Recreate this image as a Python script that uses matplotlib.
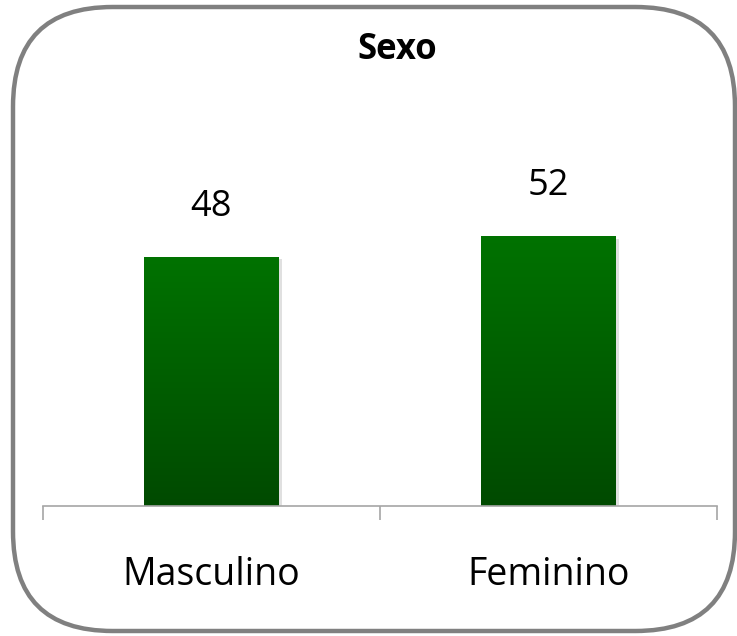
import numpy as np
import matplotlib.pyplot as plt
from matplotlib.patches import FancyBboxPatch
from matplotlib.colors import LinearSegmentedColormap

categorias = ['Masculino', 'Feminino']
valores = [48, 52]
titulo = 'Sexo'

plt.rcParams['font.family'] = ['Open Sans', 'DejaVu Sans']

fig = plt.figure(figsize=(7.37, 6.36), dpi=100)

# borde redondeado
borde = FancyBboxPatch((13/737, 5/636), 722/737, 624/636,
                       boxstyle='round,pad=0,rounding_size=0.135',
                       transform=fig.transFigure, fill=False,
                       edgecolor='#808080', linewidth=3.2,
                       mutation_aspect=737/636)
fig.patches.append(borde)

ax = fig.add_axes([43/737, 130/636, 674/737, 311/636])
ax.set_xlim(-0.5, 1.5)
ax.set_ylim(0, 60)

verde = LinearSegmentedColormap.from_list('verde', ['#004a00', '#007200'])
grad = np.linspace(0, 1, 256).reshape(-1, 1)
ancho = 0.4
for i, v in enumerate(valores):
    # sombra suave
    ax.bar(i + 0.008, v, ancho, bottom=-0.4, color='#000000', alpha=0.12, zorder=1)
    ax.imshow(grad, cmap=verde, origin='lower', aspect='auto',
              extent=(i - ancho/2, i + ancho/2, 0, v), zorder=2)
    ax.text(i, v + 6.2, str(v), ha='center', va='bottom', fontsize=26, clip_on=False)

ax.set_xlim(-0.5, 1.5)
ax.set_ylim(0, 60)
for s in ['top', 'right', 'left']:
    ax.spines[s].set_visible(False)
ax.spines['bottom'].set_color('#a6a6a6')
ax.spines['bottom'].set_linewidth(1.2)
ax.set_yticks([])
ax.set_xticks([-0.5, 0.5, 1.5])
ax.set_xticklabels([])
ax.tick_params(axis='x', length=10, color='#a6a6a6', width=1.2)
for i, c in enumerate(categorias):
    ax.text(i, -13.3, c, ha='center', va='center', fontsize=27, clip_on=False)

fig.text(397/737, 1 - 50/636, titulo, ha='center', va='center',
         fontsize=25, fontweight='bold')

fig.savefig('out.png', dpi=100)
